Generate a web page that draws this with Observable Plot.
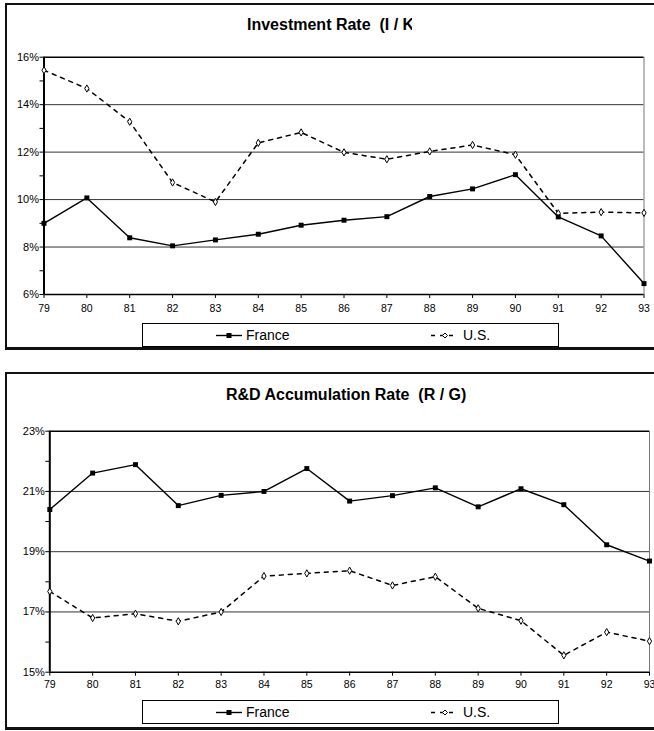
<!DOCTYPE html>
<html>
<head>
<meta charset="utf-8">
<script src="https://cdn.jsdelivr.net/npm/d3@7"></script>
<script src="https://cdn.jsdelivr.net/npm/@observablehq/plot@0.6"></script>
<style>
  html, body { margin: 0; padding: 0; background: #fff; }
  body { width: 654px; height: 731px; overflow: hidden; position: relative; font-family: "Liberation Sans", Arial, sans-serif; }
  .frame { position: absolute; border: 2px solid #111; border-bottom-width: 3px; box-sizing: border-box; }
  .title { position: absolute; font-weight: bold; font-size: 16px; white-space: pre; overflow: hidden; color: #000; line-height: 18px; }
  .legend { position: absolute; border: 1px solid #000; box-sizing: border-box; background: #fff; }
  .legend span { position: absolute; font-size: 14px; top: 3px; line-height: 16px; }
  .legend svg { position: absolute; top: 0; }
  .chart { position: absolute; left: 0; }
</style>
</head>
<body>
<script>
// ---- data ----
const years = [79, 80, 81, 82, 83, 84, 85, 86, 87, 88, 89, 90, 91, 92, 93];
const yearLabels = ["79","80","81","82","83","84","85","86","87","88","89","90","91","92","93"];

const franceInvestment = [9.0, 10.07, 8.39, 8.05, 8.30, 8.54, 8.92, 9.13, 9.28, 10.13, 10.45, 11.05, 9.27, 8.47, 6.46];
const usInvestment     = [15.45, 14.68, 13.28, 10.72, 9.90, 12.39, 12.83, 11.99, 11.70, 12.03, 12.30, 11.89, 9.42, 9.47, 9.44];

const franceRD = [20.40, 21.61, 21.89, 20.53, 20.87, 21.00, 21.76, 20.68, 20.86, 21.12, 20.49, 21.09, 20.56, 19.23, 18.69];
const usRD     = [17.68, 16.80, 16.94, 16.69, 17.00, 18.19, 18.28, 18.37, 17.88, 18.17, 17.12, 16.71, 15.56, 16.33, 16.03];

const invMajorTicks = [6, 8, 10, 12, 14, 16];
const invMinorTicks = [7, 9, 11, 13, 15];
const invGrid = [8, 10, 12, 14];
const rdMajorTicks = [15, 17, 19, 21, 23];
const rdMinorTicks = [16, 18, 20, 22];
const rdGrid = [17, 19, 21];

const seriesNames = ["France", "U.S."];
const titles = ["Investment Rate  (I / K)", "R&D Accumulation Rate  (R / G)"];

// ---- helpers ----
function rows(vals) { return years.map((y, i) => ({year: y, value: vals[i]})); }

function makeChart(cfg) {
  const fr = rows(cfg.france), us = rows(cfg.us);
  return Plot.plot({
    width: 654,
    height: cfg.height,
    marginLeft: cfg.left,
    marginRight: 654 - cfg.right,
    marginTop: cfg.top,
    marginBottom: cfg.height - cfg.bottom,
    style: {fontFamily: "'Liberation Sans', Arial, sans-serif", fontSize: "11px", color: "#000", background: "transparent"},
    x: {domain: [79, 93], axis: null},
    y: {domain: cfg.domain, axis: null},
    marks: [
      Plot.ruleY(cfg.grid, {stroke: "#333", strokeWidth: 1}),
      Plot.ruleX([93], {stroke: "#777", strokeWidth: 1}),
      Plot.ruleY([cfg.domain[1]], {stroke: "#000", strokeWidth: 1.6}),
      Plot.axisY({ticks: cfg.minor, tickFormat: () => "", tickSize: 4, stroke: "#000", label: null}),
      Plot.axisY({ticks: cfg.major, tickFormat: d => d + "%", tickSize: 4, tickPadding: 1, stroke: "#000", fontSize: 11, label: null}),
      Plot.axisX({ticks: years, tickFormat: d => yearLabels[years.indexOf(d)], tickSize: 4, tickPadding: cfg.xpad, stroke: "#000", fontSize: 10.5, label: null}),
      Plot.ruleY([cfg.domain[0]], {stroke: "#000", strokeWidth: 1.6}),
      Plot.ruleX([79], {stroke: "#000", strokeWidth: 2}),
      Plot.line(us, {x: "year", y: "value", stroke: "#000", strokeWidth: 1.5, strokeDasharray: "4,5"}),
      Plot.line(fr, {x: "year", y: "value", stroke: "#000", strokeWidth: 1.4}),
      Plot.dot(us, {x: "year", y: "value", symbol: "diamond", r: 2.2, fill: "#fff", stroke: "#000", strokeWidth: 1}),
      Plot.dot(fr, {x: "year", y: "value", symbol: "square", r: 2.8, fill: "#000", stroke: "none"})
    ]
  });
}

function addBox(left, top, width, height, cls) {
  const d = document.createElement("div");
  d.className = cls;
  Object.assign(d.style, {left: left + "px", top: top + "px", width: width + "px", height: height + "px"});
  document.body.appendChild(d);
  return d;
}

function addLegend(left, top) {
  const lg = addBox(left, top, 417, 24, "legend");
  const ns = "http://www.w3.org/2000/svg";
  const svg = document.createElementNS(ns, "svg");
  svg.setAttribute("width", 417); svg.setAttribute("height", 22);
  svg.innerHTML =
    '<line x1="73" x2="99" y1="11.5" y2="11.5" stroke="#000" stroke-width="1.4"/>' +
    '<rect x="83.5" y="9" width="5" height="5" fill="#000"/>' +
    '<line x1="288" x2="315" y1="11.5" y2="11.5" stroke="#000" stroke-width="1.5" stroke-dasharray="4,5"/>' +
    '<path d="M302,9 L304.5,11.5 L302,14 L299.5,11.5 Z" fill="#fff" stroke="#000" stroke-width="1"/>';
  lg.appendChild(svg);
  const s1 = document.createElement("span"); s1.textContent = seriesNames[0]; s1.style.left = "103px"; lg.appendChild(s1);
  const s2 = document.createElement("span"); s2.textContent = seriesNames[1]; s2.style.left = "320px"; lg.appendChild(s2);
}

// ---- top chart ----
addBox(5, 3, 655, 347, "frame");
const t1 = addBox(247, 16, 165, 18, "title"); t1.textContent = titles[0];
const c1 = makeChart({france: franceInvestment, us: usInvestment, domain: [6, 16], major: invMajorTicks, minor: invMinorTicks, grid: invGrid,
  height: 330, left: 43.5, right: 643.5, top: 56.7, bottom: 294, xpad: 6});
c1.classList.add("chart"); c1.style.top = "0px";
document.body.appendChild(c1);
addLegend(142, 323);

// ---- bottom chart ----
addBox(5, 372, 655, 358, "frame");
const t2 = addBox(226, 386, 260, 18, "title"); t2.textContent = titles[1];
const c2 = makeChart({france: franceRD, us: usRD, domain: [15, 23], major: rdMajorTicks, minor: rdMinorTicks, grid: rdGrid,
  height: 330, left: 49.3, right: 649, top: 430.7 - 372, bottom: 671.7 - 372, xpad: 4});
c2.classList.add("chart"); c2.style.top = "372px";
document.body.appendChild(c2);
addLegend(142, 700);
</script>
</body>
</html>
